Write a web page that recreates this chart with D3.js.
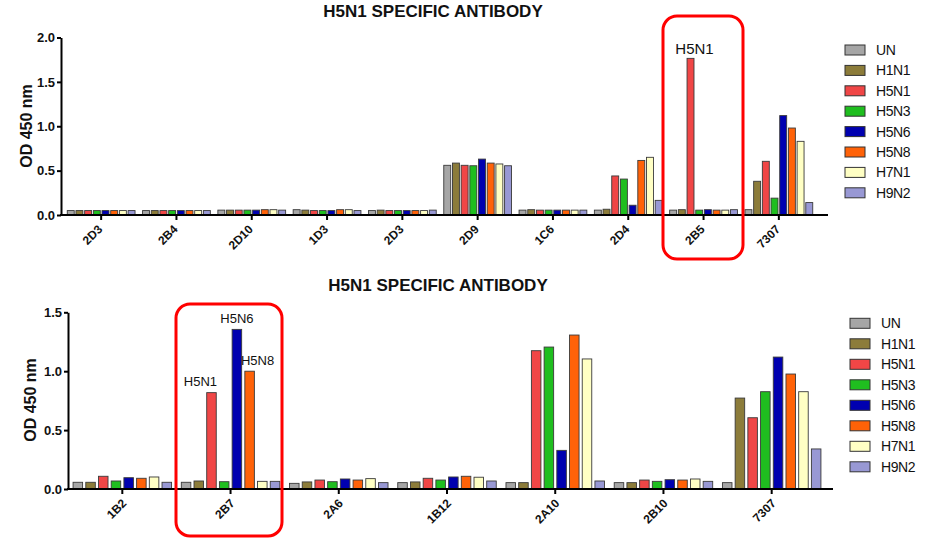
<!DOCTYPE html>
<html><head><meta charset="utf-8">
<script src="https://cdn.jsdelivr.net/npm/d3@7"></script>
<style>
html,body{margin:0;padding:0;background:#fff;}
svg{display:block;}
text{font-family:"Liberation Sans",Arial,sans-serif;}
</style></head>
<body>
<svg id="chart" width="933" height="555"></svg>
<script>
// ---------- DATA ----------
const seriesNames = ["UN","H1N1","H5N1","H5N3","H5N6","H5N8","H7N1","H9N2"];
const seriesColors = ["#a6a6a6","#8c7c3a","#f04646","#1fbe1f","#0000b0","#ff6208","#ffffc4","#9898d4"];
const chartTitle = "H5N1 SPECIFIC ANTIBODY";
const yLabel = "OD 450 nm";

// top chart
const topCategories = ["2D3","2B4","2D10","1D3","2D3","2D9","1C6","2D4","2B5","7307"];
const topTicks = [0, 0.5, 1.0, 1.5, 2.0];
const topUN   = [0.05,0.05,0.055,0.06,0.05,0.56,0.055,0.055,0.055,0.06];
const topH1N1 = [0.05,0.05,0.055,0.055,0.055,0.585,0.06,0.065,0.06,0.38];
const topH5N1 = [0.05,0.05,0.055,0.05,0.05,0.56,0.055,0.44,1.765,0.605];
const topH5N3 = [0.05,0.05,0.055,0.05,0.05,0.555,0.055,0.405,0.055,0.19];
const topH5N6 = [0.05,0.05,0.055,0.05,0.05,0.63,0.055,0.11,0.06,1.12];
const topH5N8 = [0.05,0.05,0.06,0.06,0.05,0.585,0.055,0.615,0.055,0.98];
const topH7N1 = [0.05,0.05,0.06,0.06,0.05,0.575,0.055,0.65,0.055,0.83];
const topH9N2 = [0.05,0.05,0.055,0.05,0.055,0.555,0.055,0.165,0.06,0.14];

// bottom chart
const botCategories = ["1B2","2B7","2A6","1B12","2A10","2B10","7307"];
const botTicks = [0, 0.5, 1.0, 1.5];
const botUN   = [0.057,0.057,0.048,0.054,0.054,0.054,0.054];
const botH1N1 = [0.057,0.068,0.06,0.06,0.054,0.054,0.772];
const botH5N1 = [0.108,0.818,0.076,0.091,1.174,0.076,0.605];
const botH5N3 = [0.068,0.062,0.062,0.076,1.205,0.065,0.826];
const botH5N6 = [0.096,1.355,0.085,0.102,0.328,0.079,1.12];
const botH5N8 = [0.091,1.0,0.076,0.108,1.307,0.076,0.976];
const botH7N1 = [0.102,0.065,0.088,0.1,1.104,0.085,0.826];
const botH9N2 = [0.057,0.065,0.054,0.068,0.068,0.065,0.34];

// annotations: [category index, series index, label]
const topAnnotations = [[8, 2, "H5N1"]];
const botAnnotations = [[1, 2, "H5N1"], [1, 4, "H5N6"], [1, 5, "H5N8"]];

// ---------- DRAW ----------
const svg = d3.select("#chart");

function drawChart(cfg) {
  const g = svg.append("g");
  const series = cfg.series;
  const x0 = d3.scaleBand().domain(d3.range(cfg.categories.length))
    .range(cfg.xRange).paddingInner(cfg.groupPad).paddingOuter(cfg.groupPad/2);
  const x1 = d3.scaleBand().domain(d3.range(seriesNames.length))
    .range([0, x0.bandwidth()]).paddingInner(cfg.barPad);
  const y = d3.scaleLinear().domain([0, cfg.yMax]).range([cfg.y0, cfg.yTop]);

  // bars
  cfg.categories.forEach((c, ci) => {
    series.forEach((vals, si) => {
      g.append("rect")
        .attr("x", x0(ci) + x1(si))
        .attr("y", y(vals[ci]))
        .attr("width", x1.bandwidth())
        .attr("height", y(0) - y(vals[ci]))
        .attr("fill", seriesColors[si])
        .attr("stroke", "#3a3a3a")
        .attr("stroke-width", 0.9);
    });
  });

  // y axis
  const ya = g.append("g").attr("transform", `translate(${cfg.axisX},0)`)
    .call(d3.axisLeft(y).tickValues(cfg.ticks).tickFormat(d3.format(".1f")).tickSize(4).tickSizeOuter(0).tickPadding(2));
  ya.select(".domain").attr("stroke", "#000").attr("stroke-width", 2);
  ya.selectAll(".tick line").attr("stroke", "#000").attr("stroke-width", 2);
  ya.selectAll(".tick text").attr("font-size", 13).attr("font-weight", "bold").attr("fill", "#111")
    .attr("font-family", "'Liberation Sans',Arial,sans-serif");

  // x axis (ticks from the band scale; labels drawn rotated)
  const xa = g.append("g").attr("transform", `translate(0,${cfg.y0})`)
    .call(d3.axisBottom(x0).tickFormat(() => "").tickSize(5).tickSizeOuter(0));
  xa.select(".domain").remove();
  xa.selectAll(".tick text").remove();
  xa.append("line").attr("x1", cfg.axisX - 1).attr("x2", cfg.axisEnd).attr("y1", 0).attr("y2", 0)
    .attr("stroke", "#000").attr("stroke-width", 2);
  xa.selectAll(".tick line").attr("stroke", "#000").attr("stroke-width", 2);
  cfg.categories.forEach((c, ci) => {
    const tx = x0(ci) + x0.bandwidth() / 2 + cfg.lblDx;
    const ty = cfg.y0 + cfg.lblDy;
    g.append("text")
      .attr("transform", `translate(${tx},${ty}) rotate(-45)`)
      .attr("text-anchor", "end")
      .attr("font-size", 12).attr("font-weight", "bold").attr("fill", "#111")
      .text(c);
  });

  // title
  g.append("text").attr("x", cfg.titleX).attr("y", cfg.titleY).attr("text-anchor", "middle")
    .attr("font-size", 17).attr("font-weight", "bold").attr("fill", "#111").text(chartTitle);

  // y label
  g.append("text").attr("transform", `translate(${cfg.ylabX},${cfg.ylabY}) rotate(-90)`)
    .attr("text-anchor", "middle").attr("font-size", 16).attr("font-weight", "bold").attr("fill", "#111")
    .text(yLabel);

  // legend
  const lg = g.append("g");
  seriesNames.forEach((n, i) => {
    const cy = cfg.legY + i * cfg.legStep;
    lg.append("rect").attr("x", cfg.legX).attr("y", cy - 5).attr("width", 20).attr("height", 10)
      .attr("fill", seriesColors[i]).attr("stroke", "#333").attr("stroke-width", 1);
    lg.append("text").attr("x", cfg.legX + 31).attr("y", cy + 5).attr("font-size", 14)
      .attr("fill", "#111").attr("letter-spacing", -0.4).text(n);
  });

  // highlight box
  const b = cfg.box;
  g.append("rect").attr("x", b[0]).attr("y", b[1]).attr("width", b[2]).attr("height", b[3])
    .attr("rx", 14).attr("ry", 14).attr("fill", "none").attr("stroke", "#ff0000").attr("stroke-width", 3);

  // annotations
  cfg.annotations.forEach((a, k) => {
    const [ci, si, lab] = a;
    const cx = x0(ci) + x1(si) + x1.bandwidth() / 2 + cfg.annDx[k];
    g.append("text").attr("x", cx).attr("y", y(series[si][ci]) - cfg.annDy[k])
      .attr("text-anchor", "middle").attr("font-family", "'Open Sans',sans-serif")
      .attr("font-size", cfg.annSize).attr("fill", "#111").text(lab);
  });
}

drawChart({
  categories: topCategories,
  series: [topUN, topH1N1, topH5N1, topH5N3, topH5N6, topH5N8, topH7N1, topH9N2],
  ticks: topTicks, yMax: 2.0, y0: 215, yTop: 37.5,
  xRange: [63.5, 816.5], groupPad: 0.1, barPad: 0.2,
  axisX: 61, axisEnd: 828, lblDx: 2, lblDy: 15,
  titleX: 433, titleY: 17, ylabX: 32, ylabY: 126,
  legX: 845, legY: 50, legStep: 20.4,
  box: [663, 16, 80, 243],
  annotations: topAnnotations, annDx: [4], annDy: [4], annSize: 15
});

drawChart({
  categories: botCategories,
  series: [botUN, botH1N1, botH5N1, botH5N3, botH5N6, botH5N8, botH7N1, botH9N2],
  ticks: botTicks, yMax: 1.5, y0: 489, yTop: 312.3,
  xRange: [68.2, 825.8], groupPad: 0.09, barPad: 0.25,
  axisX: 68, axisEnd: 833, lblDx: 5, lblDy: 15,
  titleX: 438, titleY: 291, ylabX: 36, ylabY: 400,
  legX: 850, legY: 323.3, legStep: 20.5,
  box: [176, 304, 106, 232],
  annotations: botAnnotations, annDx: [-11, 0, 8], annDy: [7, 6, 6], annSize: 13
});
</script>
</body></html>
